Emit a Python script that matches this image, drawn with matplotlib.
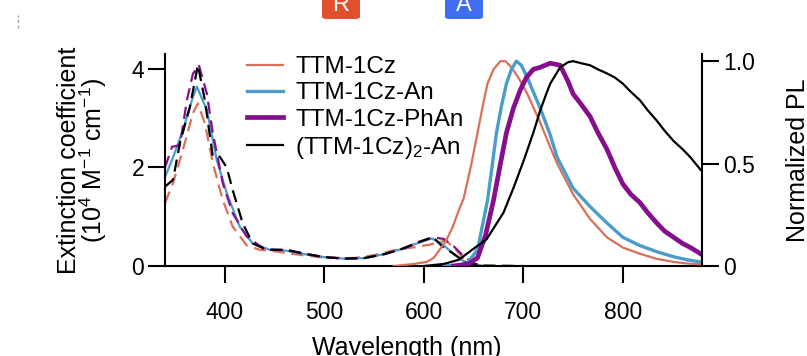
import matplotlib
matplotlib.use("Agg")
import matplotlib.pyplot as plt
from matplotlib.patches import FancyBboxPatch
from matplotlib.lines import Line2D

plt.rcParams['font.family'] = ['Liberation Sans', 'DejaVu Sans']
plt.rcParams['mathtext.fontset'] = 'custom'
plt.rcParams['mathtext.rm'] = 'Liberation Sans'
plt.rcParams['mathtext.it'] = 'Liberation Sans:italic'
plt.rcParams['font.size'] = 17

# --- absorption (left axis, 10^4 M-1 cm-1) ---
abs_cz_wl = [340, 348, 358, 368, 373, 380, 388, 398, 408, 422, 435, 450, 470, 500, 530, 550, 570, 590, 605, 615, 622, 630, 640, 650, 660]
abs_cz = [1.28, 1.68, 2.36, 3.1, 3.3, 2.9, 2.09, 1.34, 0.8, 0.42, 0.33, 0.3, 0.24, 0.17, 0.16, 0.22, 0.32, 0.38, 0.43, 0.48, 0.52, 0.38, 0.15, 0.04, 0.0]

abs_an_wl = [340, 348, 358, 368, 372, 382, 392, 402, 415, 428, 445, 462, 480, 500, 520, 540, 560, 580, 596, 608, 618, 628, 638, 648, 660]
abs_an = [1.81, 2.2, 2.76, 3.43, 3.64, 3.17, 2.15, 1.48, 0.8, 0.46, 0.33, 0.31, 0.24, 0.18, 0.15, 0.16, 0.24, 0.36, 0.48, 0.56, 0.45, 0.28, 0.12, 0.03, 0.0]

abs_phan_wl = [340, 347, 355, 362, 368, 374, 382, 388, 398, 408, 422, 440, 462, 480, 500, 520, 540, 560, 580, 596, 610, 620, 630, 640, 650, 660]
abs_phan = [2.0, 2.42, 2.45, 3.37, 3.9, 4.08, 3.5, 2.7, 1.68, 1.07, 0.6, 0.34, 0.32, 0.25, 0.18, 0.15, 0.16, 0.24, 0.36, 0.5, 0.58, 0.55, 0.4, 0.2, 0.05, 0.0]

abs_dim_wl = [340, 348, 355, 365, 373, 380, 388, 395, 402, 408, 418, 428, 442, 462, 480, 500, 520, 540, 560, 576, 596, 609, 619, 629, 643, 660, 700]
abs_dim = [1.61, 1.75, 2.5, 3.23, 4.08, 3.37, 2.22, 2.22, 2.0, 1.54, 0.87, 0.46, 0.33, 0.33, 0.25, 0.18, 0.15, 0.16, 0.24, 0.33, 0.49, 0.59, 0.39, 0.26, 0.06, 0.01, 0.0]

# --- normalized PL (right axis) ---
em_cz_wl = [570, 590, 603, 610, 616, 622, 629, 635, 640, 647, 654, 660, 664, 670, 677, 682, 688, 695, 704, 717, 727, 734, 750, 767, 784, 800, 817, 834, 851, 865, 878]
em_cz = [0.0, 0.01, 0.02, 0.04, 0.08, 0.12, 0.19, 0.27, 0.33, 0.48, 0.65, 0.8, 0.89, 0.96, 1.0, 1.0, 0.97, 0.92, 0.84, 0.7, 0.58, 0.5, 0.35, 0.23, 0.14, 0.09, 0.06, 0.035, 0.02, 0.012, 0.008]

em_an_wl = [620, 635, 643, 654, 664, 669, 673, 678, 683, 688, 693, 698, 704, 710, 717, 727, 734, 750, 767, 784, 800, 817, 834, 851, 865, 878]
em_an = [0.0, 0.005, 0.01, 0.08, 0.32, 0.5, 0.65, 0.78, 0.89, 0.96, 1.0, 0.98, 0.92, 0.85, 0.77, 0.64, 0.53, 0.38, 0.29, 0.21, 0.14, 0.1, 0.07, 0.045, 0.03, 0.02]

em_phan_wl = [630, 645, 654, 662, 670, 677, 683, 690, 697, 703, 710, 717, 727, 737, 745, 750, 758, 767, 775, 784, 792, 800, 808, 817, 825, 834, 842, 851, 860, 868, 878]
em_phan = [0.0, 0.01, 0.04, 0.15, 0.32, 0.5, 0.65, 0.77, 0.86, 0.92, 0.96, 0.97, 0.99, 0.98, 0.9, 0.84, 0.79, 0.73, 0.65, 0.57, 0.48, 0.4, 0.35, 0.31, 0.26, 0.21, 0.17, 0.14, 0.11, 0.09, 0.06]

em_dim_wl = [600, 620, 635, 646, 663, 680, 690, 700, 710, 717, 723, 727, 737, 745, 750, 758, 767, 775, 784, 792, 800, 808, 817, 825, 834, 842, 851, 860, 868, 878]
em_dim = [0.0, 0.01, 0.03, 0.07, 0.13, 0.26, 0.38, 0.51, 0.65, 0.76, 0.84, 0.89, 0.97, 0.995, 1.0, 0.99, 0.98, 0.96, 0.94, 0.92, 0.89, 0.85, 0.81, 0.76, 0.71, 0.66, 0.61, 0.57, 0.53, 0.47]

names = ["TTM-1Cz", "TTM-1Cz-An", "TTM-1Cz-PhAn", "(TTM-1Cz)$_2$-An"]
colors = ["#d8705a", "#4a9ccb", "#860f8e", "#000000"]

fig = plt.figure(figsize=(8.07, 3.56), dpi=100)
ax = fig.add_axes([0.2045, 0.2528, 0.666, 0.595])
ax2 = ax.twinx()

lw = 1.6
dash = (5.5, 3)
ax.plot(abs_cz_wl, abs_cz, color=colors[0], lw=lw, dashes=dash)
ax.plot(abs_an_wl, abs_an, color=colors[1], lw=lw)
ax.plot(abs_phan_wl, abs_phan, color=colors[2], lw=lw, dashes=dash)
ax.plot(abs_dim_wl, abs_dim, color=colors[3], lw=lw, dashes=dash)

ax2.plot(em_cz_wl, em_cz, color=colors[0], lw=lw, label=names[0])
ax2.plot(em_an_wl, em_an, color=colors[1], lw=2.4, label=names[1])
ax2.plot(em_phan_wl, em_phan, color=colors[2], lw=3.4, label=names[2])
ax2.plot(em_dim_wl, em_dim, color=colors[3], lw=lw, label=names[3])

ax.set_xlim(340, 880)
ax.set_ylim(0, 4.3)
ax2.set_ylim(0, 1.034)

ax.set_xticks([400, 500, 600, 700, 800])
ax.set_yticks([0, 2, 4])
ax.set_yticklabels(["0", "2", "4"])
ax2.set_yticks([0, 0.5, 1.0])
ax2.set_yticklabels(["0", "0.5", "1.0"])

for a in (ax, ax2):
    a.spines['top'].set_visible(False)
    for s in a.spines.values():
        s.set_linewidth(1.5)
    a.tick_params(direction='out', length=12, width=1.5, labelsize=16.5, pad=3)
ax.tick_params(axis='x', pad=13)
ax.spines['right'].set_visible(False)
ax2.spines['left'].set_visible(False)
ax2.spines['bottom'].set_visible(False)

ax.set_ylabel("Extinction coefficient\n(10$^4$ M$^{-1}$ cm$^{-1}$)", fontsize=18, labelpad=16, linespacing=0.85)
ax2.set_ylabel("Normalized PL", fontsize=18, labelpad=22)
ax.set_xlabel("Wavelength (nm)", fontsize=18)
ax.xaxis.set_label_coords(0.45, -0.33)

leg = ax2.legend(loc='upper left', bbox_to_anchor=(0.152, 0.99), frameon=False,
                 handlelength=1.5, handletextpad=0.5, labelspacing=0.17,
                 borderpad=0, borderaxespad=0, fontsize=17.5)

# badges at the top
for x0, col, txt in [(322, "#e0502f", "R"), (445, "#3f6ef3", "A")]:
    box = FancyBboxPatch((x0 / 807, 337 / 356), 38 / 807, 30 / 356,
                         boxstyle="round,pad=0,rounding_size=0.006",
                         transform=fig.transFigure, color=col, lw=0)
    fig.patches.append(box)
    fig.text((x0 + 19) / 807, 351 / 356, txt, color="white", ha="center",
             va="center", fontsize=17)

fig.add_artist(Line2D([18 / 807, 18 / 807], [328 / 356, 341 / 356], color="#999999",
                      lw=1, linestyle=(0, (2, 2)), transform=fig.transFigure))

fig.savefig("out.png", dpi=100)
